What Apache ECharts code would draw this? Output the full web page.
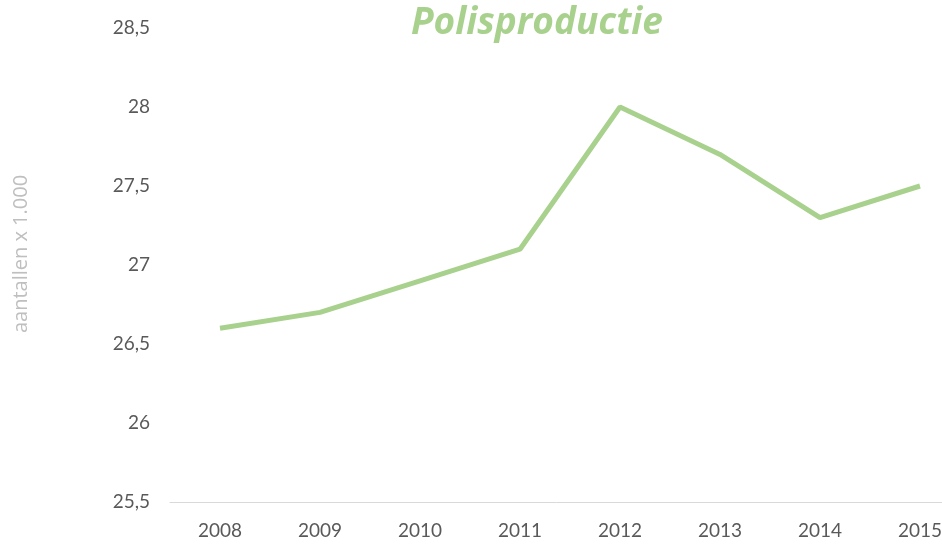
<!DOCTYPE html>
<html>
<head>
<meta charset="utf-8">
<script src="https://cdn.jsdelivr.net/npm/echarts@6/dist/echarts.min.js"></script>
<style>
  html, body { margin: 0; padding: 0; background: #fff; }
  #chart { width: 942px; height: 544px; }
</style>
</head>
<body>
<div id="chart"></div>
<script>
const years = ['2008', '2009', '2010', '2011', '2012', '2013', '2014', '2015']
const polissen = [26.6, 26.7, 26.9, 27.1, 28.0, 27.7, 27.3, 27.5]

const chart = echarts.init(document.getElementById('chart'))
const fontFamily = 'Lato, "Open Sans", sans-serif'

chart.setOption({
  animation: false,
  title: {
    text: 'Polisproductie',
    left: 406,
    top: 0,
    textStyle: {
      color: '#a9d18e',
      fontSize: 37,
      fontWeight: 'bold',
      fontStyle: 'italic',
      fontFamily: '"Open Sans", sans-serif'
    }
  },
  grid: {
    left: 170,
    width: 800,
    top: 28,
    bottom: 42,
    outerBoundsMode: 'none'
  },
  xAxis: {
    type: 'category',
    data: years,
    boundaryGap: true,
    axisTick: { show: false },
    axisLine: { lineStyle: { color: '#d9d9d9', width: 1 } },
    axisLabel: {
      color: '#595959',
      fontSize: 19,
      fontFamily: fontFamily,
      margin: 19
    }
  },
  yAxis: {
    type: 'value',
    min: 25.5,
    max: 28.5,
    interval: 0.5,
    name: 'aantallen x 1.000',
    nameLocation: 'middle',
    nameGap: 139,
    nameTextStyle: {
      color: '#bfbfbf',
      fontSize: 20,
      fontFamily: '"Open Sans", sans-serif',
      padding: [0, 0, 0, 22]
    },
    splitLine: { show: false },
    axisLine: { show: false },
    axisTick: { show: false },
    axisLabel: {
      color: '#595959',
      fontSize: 19,
      fontFamily: fontFamily,
      margin: 20,
      formatter: v => String(v).replace('.', ',')
    }
  },
  series: [
    {
      name: 'Polisproductie',
      type: 'line',
      data: polissen,
      showSymbol: false,
      lineStyle: { color: '#a9d18e', width: 5 }
    }
  ]
})
</script>
</body>
</html>
